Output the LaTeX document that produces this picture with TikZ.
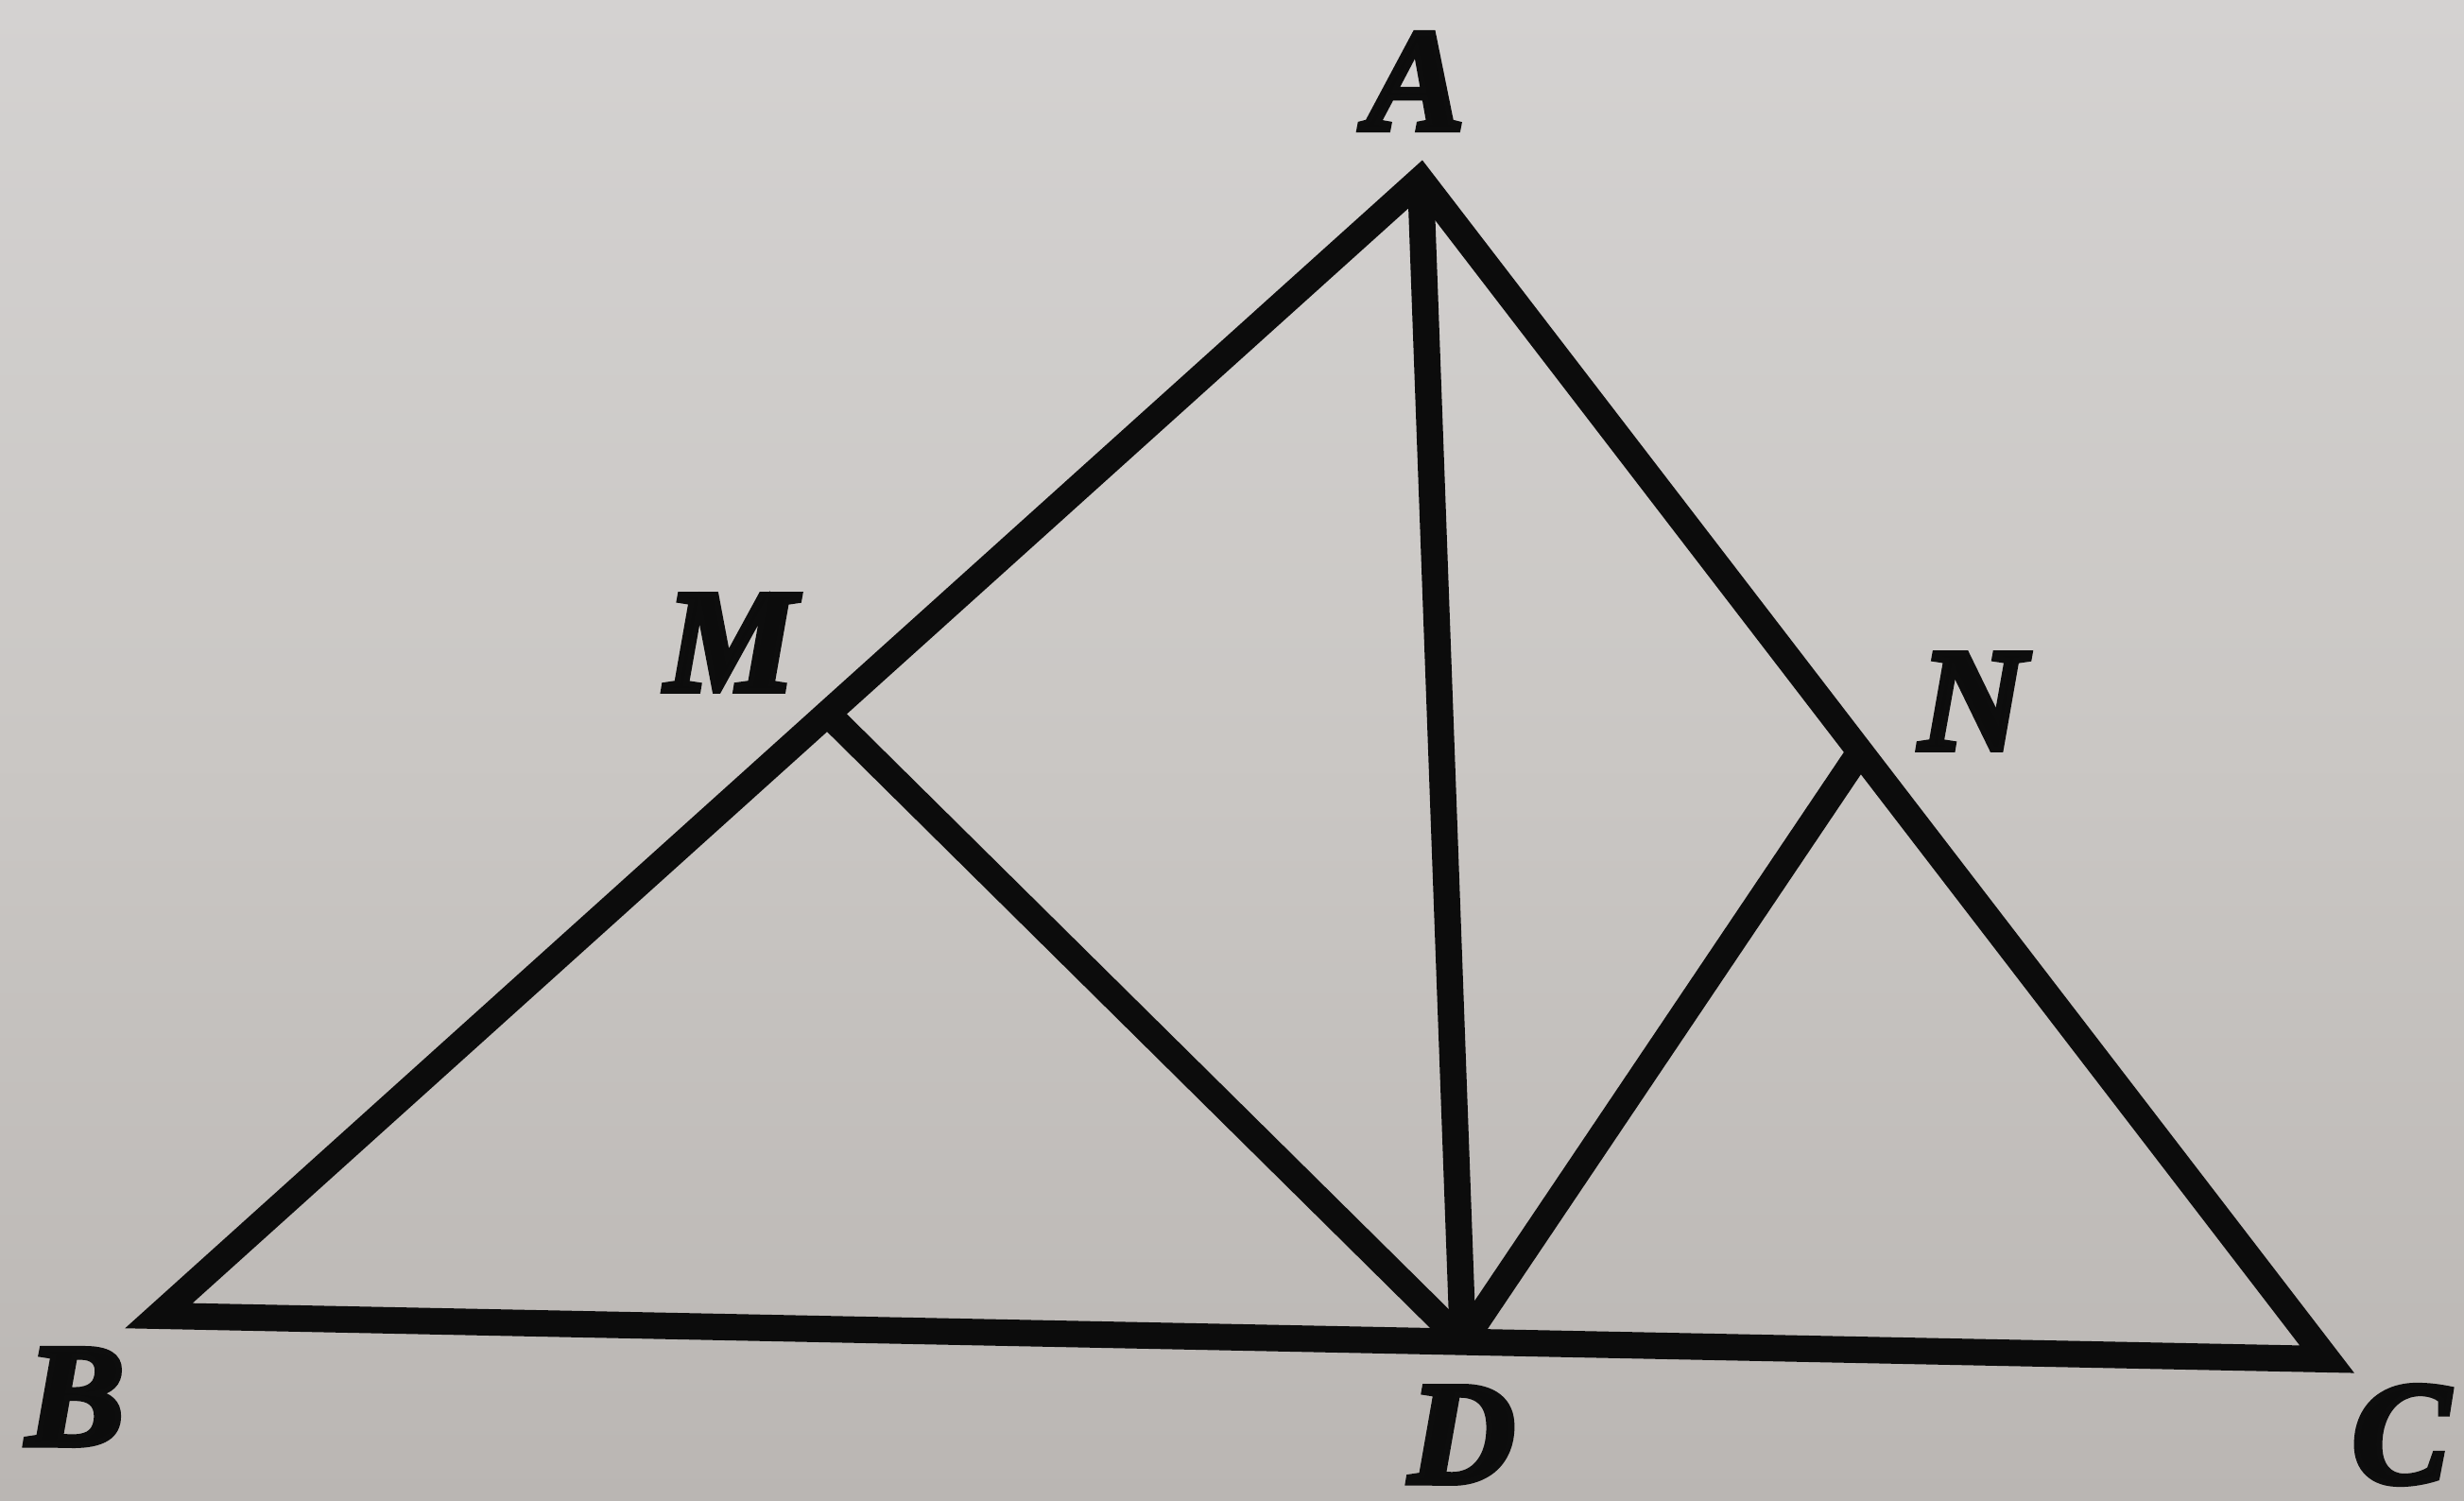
\documentclass[tikz,border=0pt]{standalone}
\usepackage{fontspec}
\setmainfont{Liberation Serif}
\usetikzlibrary{calc}
\definecolor{paper}{RGB}{202,199,196}
\definecolor{paperdark}{RGB}{186,182,179}
\definecolor{paperlight}{RGB}{212,210,209}
\definecolor{ink}{RGB}{12,12,12}
\newcommand{\heavy}[1]{\special{pdf:literal direct 2 Tr 1.8 w 0.05 0.05 0.05 RG}#1\special{pdf:literal direct 0 Tr}}
\begin{document}
\begin{tikzpicture}[x=1cm,y=1cm,
  edge/.style={draw=ink,line width=0.28cm,line join=miter},
  ptlabel/.style={text=ink,inner sep=0pt,font=\fontsize{44}{48}\selectfont\bfseries\itshape}]
\useasboundingbox (0,0) rectangle (26.07,15.88);
\shade[shading angle=30,top color=paperlight,bottom color=paperdark,middle color=paper] (0,0) rectangle (26.07,15.88);
% vertices
\coordinate (A) at (15.03,13.98);
\coordinate (B) at (1.68,1.96);
\coordinate (C) at (24.62,1.50);
\coordinate (D) at ($(B)!0.6015!(C)$);
\coordinate (M) at ($(A)!0.47!(B)$);
\coordinate (N) at ($(A)!0.485!(C)$);
% edges
\draw[edge] (A) -- (B) -- (C) -- cycle;
\draw[edge] (A) -- (D);
\draw[edge] (M) -- (D);
\draw[edge] (N) -- (D);
% labels
\node[ptlabel] (lA) at (14.98,15.02) {\heavy{A}};
\node[ptlabel] (lB) at (0.80,1.10) {\heavy{B}};
\node[ptlabel] (lC) at (25.40,0.70) {\heavy{C}};
\node[ptlabel] (lD) at (15.47,0.70) {\heavy{D}};
\node[ptlabel] (lM) at (7.73,9.08) {\heavy{M}};
\node[ptlabel] (lN) at (20.87,8.46) {\heavy{N}};
\end{tikzpicture}
\end{document}
